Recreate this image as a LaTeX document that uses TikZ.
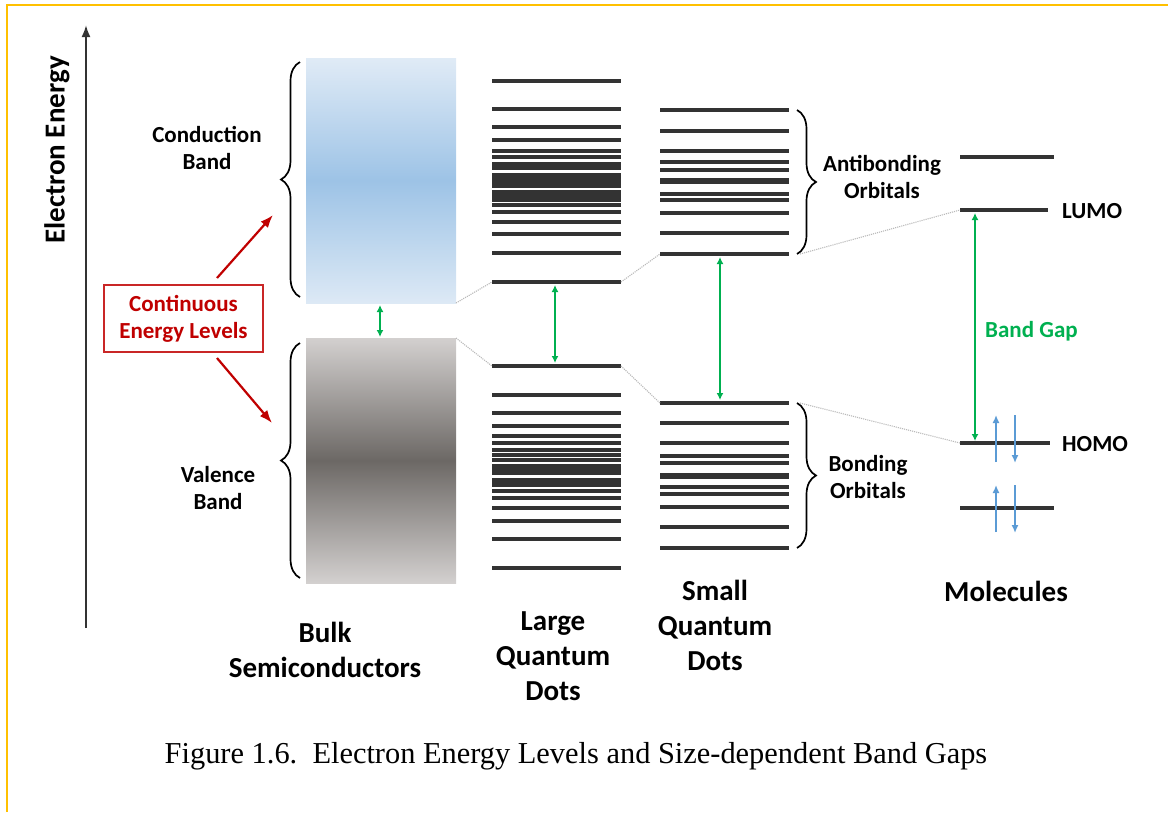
\documentclass[tikz,border=0pt]{standalone}
\usepackage{fontspec}
\setmainfont{Liberation Serif}
\setsansfont{Carlito}
\usetikzlibrary{positioning, arrows.meta, decorations.pathreplacing}
\definecolor{frameyellow}{HTML}{FFC000}
\definecolor{levelgray}{HTML}{333333}
\definecolor{gapgreen}{HTML}{00B050}
\definecolor{spinblue}{HTML}{5B9BD5}
\definecolor{celred}{HTML}{C00000}
\definecolor{cbtop}{HTML}{E0EBF6}
\definecolor{cbmid}{HTML}{9DC3E6}
\definecolor{vbtop}{HTML}{D3D0CF}
\definecolor{vbmid}{HTML}{6C6865}

\begin{document}
\begin{tikzpicture}[x=1pt, y=-1pt, >=Latex,
    font=\sffamily\bfseries\fontsize{23}{27}\selectfont,
    level/.style={draw=levelgray, line width=3.8pt},
    gap/.style={{Latex[length=7pt,width=7pt]}-{Latex[length=7pt,width=7pt]}, draw=gapgreen, line width=2pt},
    spin/.style={-{Latex[length=8pt,width=7pt]}, draw=spinblue, line width=2.2pt},
    corr/.style={draw=gray!55, line width=1.1pt, densely dotted},
    brace/.style={decorate, decoration={brace, amplitude=19pt}, line width=1.7pt},
    bigtext/.style={font=\sffamily\bfseries\fontsize{29}{35}\selectfont, align=center}]
    \useasboundingbox (0,0) rectangle (1168,812);

    % Frame (top and left edges only)
    \draw[frameyellow, line width=2.2pt] (7,812) -- (7,5) -- (1168,5);

    % Energy axis
    \draw[->, levelgray, line width=2pt] (86,628) -- (86,25);
    \node[bigtext, rotate=90] (axis) at (57,150) {Electron Energy};

    % Bulk semiconductor bands
    \shade[top color=cbtop, bottom color=cbtop!95!cbmid, middle color=cbmid] (306,58) rectangle (456,303);
    \shade[top color=vbtop, bottom color=vbtop, middle color=vbmid] (306,338) rectangle (456,583);
    \draw[brace] (300,297) -- (300,62);
    \draw[brace] (300,578) -- (300,343);
    \node[align=center] (cb) at (207,148) {Conduction\\Band};
    \node[align=center] (vb) at (218,488) {Valence\\Band};
    \draw[gap] (380,305) -- (380,337);

    % Continuous energy levels label
    \node[draw=celred!85!white, line width=1.2pt, fill=white, text=celred, align=center,
          minimum width=159pt, minimum height=67pt, inner sep=0pt] (cel) at (183.5,318.5) {Continuous\\Energy Levels};
    \coordinate (cbtip) at (273,215);
    \coordinate (vbtip) at (272,423);
    \draw[->, celred, line width=2.2pt] (217,278) -- (cbtip);
    \draw[->, celred, line width=2.2pt] (217,358) -- (vbtip);

    % Large quantum dots
    \foreach \y in {81,109,127,140,151,157,192,196,200,205,212,222,234,253,282}
        \draw[level] (492,\y) -- (621,\y);
    \fill[levelgray] (492,162) rectangle (621,170);
    \fill[levelgray] (492,173) rectangle (621,188);
    \foreach \y in {366,395,413,426,436,443,450,455,460,491,498,508,521,539,568}
        \draw[level] (492,\y) -- (621,\y);
    \fill[levelgray] (492,464) rectangle (621,475);
    \fill[levelgray] (492,478) rectangle (621,487);
    \draw[gap] (555,285) -- (555,363);

    % Small quantum dots
    \foreach \y in {110,131,151,162,170,194,200,213,233,254}
        \draw[level] (660,\y) -- (789,\y);
    \draw[level, line width=5.5pt] (660,181) -- (789,181);
    \foreach \y in {403,423,443,456,463,487,494,507,527,548}
        \draw[level] (660,\y) -- (789,\y);
    \draw[level, line width=5.5pt] (660,476) -- (789,476);
    \draw[brace] (797,110) -- (797,254);
    \draw[brace] (797,403) -- (797,548);
    \node[align=center] (ab) at (882,177) {Antibonding\\Orbitals};
    \node[align=center] (bo) at (868,477) {Bonding\\Orbitals};
    \draw[gap] (720,257) -- (720,400);

    % Molecules
    \draw[level] (960,157) -- (1054,157);
    \draw[level] (960,210) -- (1048,210);
    \draw[level] (960,443) -- (1050,443);
    \draw[level] (960,508) -- (1054,508);
    \node[anchor=west, inner sep=0pt] (lumo) at (1062,211) {LUMO};
    \node[anchor=west, inner sep=0pt] (homo) at (1062,444) {HOMO};
    \draw[gap] (975,213) -- (975,441);
    \node[text=gapgreen, anchor=west, inner sep=0pt] (bg) at (985,331) {Band Gap};
    \draw[spin] (996,462) -- (996,415);
    \draw[spin] (1015,415) -- (1015,463);
    \draw[spin] (996,532) -- (996,485);
    \draw[spin] (1015,485) -- (1015,533);

    % Correlation lines between the columns
    \draw[corr] (456,303) -- (492,282);
    \draw[corr] (456,338) -- (492,366);
    \draw[corr] (621,282) -- (660,254);
    \draw[corr] (621,366) -- (660,403);
    \draw[corr] (800,254) -- (960,210);
    \draw[corr] (800,403) -- (960,443);

    % Column titles
    \node[bigtext] (bulk) at (325,650) {Bulk\\Semiconductors};
    \node[bigtext] (lqd) at (553,656) {Large\\Quantum\\Dots};
    \node[bigtext] (sqd) at (715,625) {Small\\Quantum\\Dots};
    \node[bigtext] (mol) at (1006,591) {Molecules};

    % Caption
    \node[font=\rmfamily\fontsize{30.4}{36}\selectfont] (cap) at (576,756) {Figure 1.6.\ \ Electron Energy Levels and Size-dependent Band Gaps};
\end{tikzpicture}
\end{document}
